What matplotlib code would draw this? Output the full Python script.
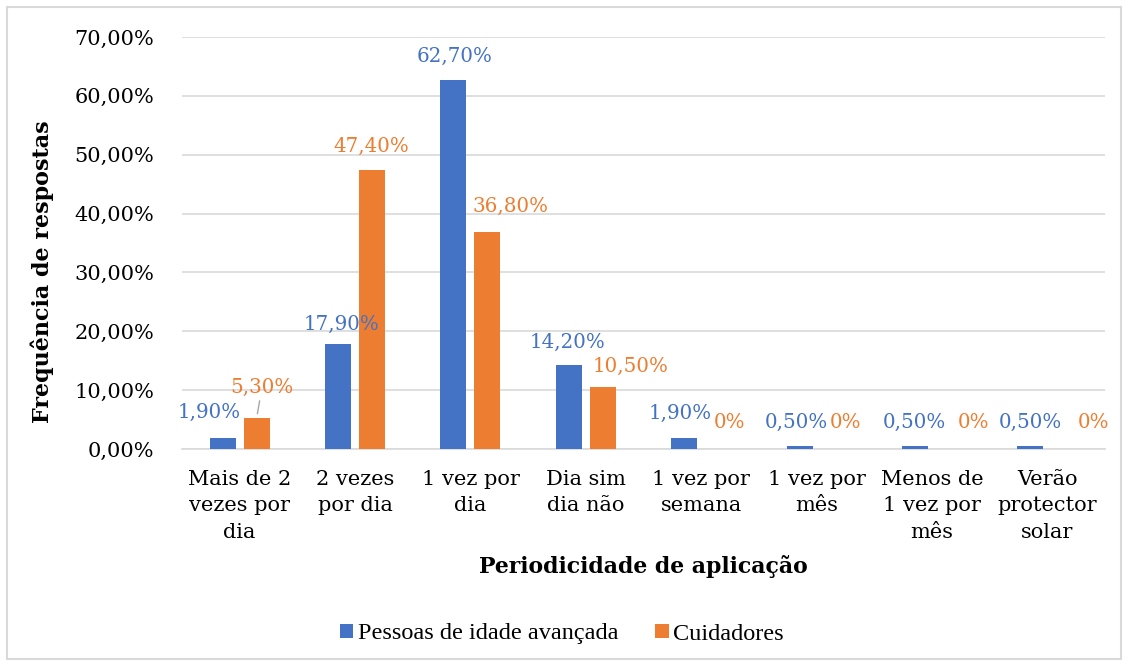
import matplotlib.pyplot as plt
import numpy as np
from matplotlib.patches import Rectangle

categorias = ["Mais de 2\nvezes por\ndia", "2 vezes\npor dia", "1 vez por\ndia", "Dia sim\ndia não",
              "1 vez por\nsemana", "1 vez por\nmês", "Menos de\n1 vez por\nmês", "Verão\nprotector\nsolar"]
idosos = [1.9, 17.9, 62.7, 14.2, 1.9, 0.5, 0.5, 0.5]
cuidadores = [5.3, 47.4, 36.8, 10.5, 0, 0, 0, 0]
rot_idosos = ["1,90%", "17,90%", "62,70%", "14,20%", "1,90%", "0,50%", "0,50%", "0,50%"]
rot_cuid = ["5,30%", "47,40%", "36,80%", "10,50%", "0%", "0%", "0%", "0%"]
yticks = [0, 10, 20, 30, 40, 50, 60, 70]

azul = '#4472C4'
laranja = '#ED7D31'
serif = 'DejaVu Serif'

fig = plt.figure(figsize=(11.28, 6.66), dpi=100)
fig.patches.append(Rectangle((7 / 1128, 1 - 659 / 666), 1114 / 1128, 652 / 666,
                             transform=fig.transFigure, fill=False, edgecolor='#d9d9d9', lw=1.5))
ax = fig.add_axes([182 / 1128, 1 - 449 / 666, 923 / 1128, 412 / 666])

x = np.arange(len(categorias))
w = 0.225
b1 = ax.bar(x - 0.147, idosos, w, color=azul, label='Pessoas de idade avançada', zorder=3)
b2 = ax.bar(x + 0.147, cuidadores, w, color=laranja, label='Cuidadores', zorder=3)

# offsets das etiquetas em pixels
off1 = [(-14, 25), (3, 19), (1, 24), (-1, 23), (-4, 24), (-3, 24), (-1, 24), (0, 24)]
off2 = [(5, 30), (-1, 24), (23, 26), (28, 21), (11, 26), (12, 26), (25, 26), (29, 26)]
for i in range(len(categorias)):
    ax.annotate(rot_idosos[i], (x[i] - 0.147, idosos[i]), xytext=off1[i], textcoords='offset pixels',
                ha='center', va='center', color=azul, fontsize=14.3, family=serif)
    ax.annotate(rot_cuid[i], (x[i] + 0.147, cuidadores[i]), xytext=off2[i], textcoords='offset pixels',
                ha='center', va='center', color=laranja, fontsize=14.3, family=serif)

# linha de chamada do 5,30%
ax.annotate('', (x[0] + 0.147, cuidadores[0]), xytext=(3, 17), textcoords='offset pixels',
            arrowprops=dict(arrowstyle='-', color='#a6a6a6', lw=1, shrinkA=0, shrinkB=3))

ax.set_xlim(-0.5, len(categorias) - 0.5)
ax.set_ylim(0, 70)
ax.set_yticks(yticks)
ax.set_yticklabels([f"{v},00%" for v in yticks], family=serif, fontsize=15)
ax.set_xticks(x)
ax.set_xticklabels(categorias, family=serif, fontsize=15, linespacing=1.5)
ax.tick_params(length=0, pad=15)
ax.tick_params(axis='y', pad=20)
ax.grid(axis='y', color='#d9d9d9', lw=1.2, zorder=0)
for s in ['top', 'right', 'left']:
    ax.spines[s].set_visible(False)
ax.spines['bottom'].set_color('#d9d9d9')
ax.spines['bottom'].set_linewidth(1.2)

fig.text(42 / 1128, 1 - 272 / 666, 'Frequência de respostas', rotation=90, ha='center', va='center',
         family=serif, fontsize=16, fontweight='bold')
fig.text(643 / 1128, 1 - 567 / 666, 'Periodicidade de aplicação', ha='center', va='center',
         family=serif, fontsize=15.8, fontweight='bold')

fig.legend(handles=[b1, b2], loc='center', bbox_to_anchor=(562 / 1128, 1 - 634 / 666), ncol=2,
           frameon=False, prop={'family': 'Liberation Serif', 'size': 17.5}, handlelength=0.55,
           handleheight=0.55, handletextpad=0.2, columnspacing=1.5)

fig.savefig('out.png', dpi=100)
